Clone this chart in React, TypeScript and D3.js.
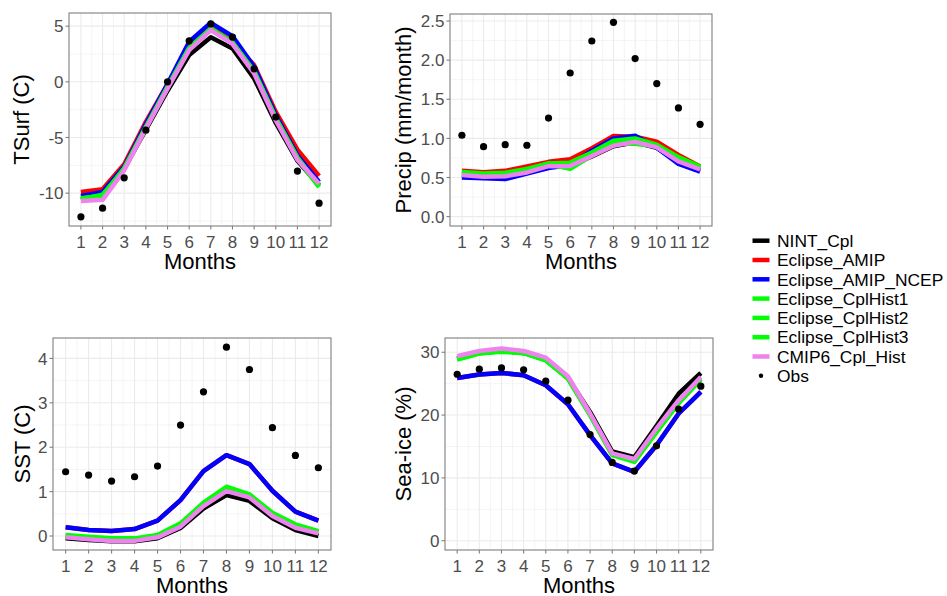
import React from "react";
import * as d3 from "d3";

// ---------- data ----------
const months = [1, 2, 3, 4, 5, 6, 7, 8, 9, 10, 11, 12];
const seriesNames = [
  "NINT_Cpl",
  "Eclipse_AMIP",
  "Eclipse_AMIP_NCEP",
  "Eclipse_CplHist1",
  "Eclipse_CplHist2",
  "Eclipse_CplHist3",
  "CMIP6_Cpl_Hist",
];
const seriesColors = ["#000000", "#FF0000", "#0000FF", "#00FF00", "#00FF00", "#00FF00", "#EE82EE"];
const obsName = "Obs";

// TSurf (C)
const tsurfNINT = [-10.6, -10.4, -7.8, -4.3, -0.8, 2.4, 4.0, 3.0, 0.3, -3.7, -7.1, -9.3];
const tsurfAMIP = [-9.9, -9.65, -7.4, -3.6, -0.2, 3.15, 4.9, 3.6, 1.5, -2.7, -6.1, -8.45];
const tsurfNCEP = [-10.25, -9.9, -7.6, -3.8, -0.2, 3.6, 5.3, 4.1, 1.35, -3.0, -6.6, -9.0];
const tsurfHist1 = [-10.5, -10.2, -7.8, -4.1, -0.5, 3.0, 4.75, 3.5, 0.9, -3.3, -6.85, -9.4];
const tsurfHist2 = [-10.55, -10.15, -7.85, -4.15, -0.55, 2.95, 4.7, 3.45, 0.85, -3.35, -6.9, -9.45];
const tsurfHist3 = [-10.45, -10.25, -7.75, -4.05, -0.45, 3.05, 4.8, 3.55, 0.95, -3.25, -6.8, -9.35];
const tsurfCMIP6 = [-10.7, -10.6, -7.95, -4.2, -0.6, 2.85, 4.65, 3.4, 0.75, -3.45, -7.0, -9.15];
const tsurfObs = [-12.13, -11.35, -8.62, -4.34, 0.0, 3.68, 5.21, 4.02, 1.17, -3.17, -8.02, -10.9];
const tsurfTicks = [-10, -5, 0, 5];

// Precip (mm/month)
const precipNINT = [0.53, 0.5, 0.52, 0.57, 0.64, 0.65, 0.77, 0.9, 0.95, 0.88, 0.7, 0.6];
const precipAMIP = [0.585, 0.566, 0.585, 0.64, 0.7, 0.733, 0.873, 1.03, 1.02, 0.958, 0.788, 0.64];
const precipNCEP = [0.5, 0.49, 0.48, 0.55, 0.62, 0.66, 0.843, 1.0, 1.035, 0.88, 0.673, 0.575];
const precipHist1 = [0.57, 0.55, 0.56, 0.61, 0.68, 0.69, 0.82, 0.97, 1.0, 0.92, 0.76, 0.64];
const precipHist2 = [0.55, 0.54, 0.55, 0.6, 0.67, 0.61, 0.78, 0.93, 0.93, 0.9, 0.74, 0.63];
const precipHist3 = [0.56, 0.53, 0.54, 0.6, 0.68, 0.66, 0.8, 0.95, 0.97, 0.91, 0.75, 0.62];
const precipCMIP6 = [0.532, 0.51, 0.515, 0.565, 0.645, 0.648, 0.775, 0.905, 0.955, 0.886, 0.705, 0.605];
const precipObs = [1.04, 0.894, 0.92, 0.912, 1.26, 1.836, 2.245, 2.483, 2.02, 1.7, 1.389, 1.18];
const precipTicks = [0, 0.5, 1.0, 1.5, 2.0, 2.5];

// SST (C)
const sstNINT = [-0.05, -0.09, -0.12, -0.12, -0.05, 0.18, 0.62, 0.92, 0.79, 0.4, 0.135, 0.0];
const sstAMIP = [0.195, 0.135, 0.112, 0.157, 0.345, 0.81, 1.463, 1.82, 1.62, 1.02, 0.548, 0.345];
const sstNCEP = [0.195, 0.135, 0.112, 0.157, 0.345, 0.81, 1.463, 1.82, 1.62, 1.02, 0.548, 0.345];
const sstHist1 = [0.022, -0.015, -0.053, -0.053, 0.022, 0.285, 0.75, 1.11, 0.938, 0.525, 0.263, 0.112];
const sstHist2 = [0.0, -0.04, -0.07, -0.07, 0.0, 0.25, 0.72, 1.07, 0.91, 0.49, 0.23, 0.09];
const sstHist3 = [-0.01, -0.05, -0.08, -0.08, -0.01, 0.24, 0.7, 1.05, 0.9, 0.48, 0.22, 0.08];
const sstCMIP6 = [-0.03, -0.075, -0.11, -0.11, -0.03, 0.21, 0.675, 1.01, 0.87, 0.45, 0.187, 0.06];
const sstObs = [1.447, 1.373, 1.238, 1.335, 1.576, 2.498, 3.248, 4.254, 3.75, 2.44, 1.815, 1.538];
const sstTicks = [0, 1, 2, 3, 4];

// Sea-ice (%)
const iceNINT = [29.0, 29.9, 30.2, 29.9, 28.9, 25.9, 20.5, 14.2, 13.3, 18.3, 23.4, 26.7];
const iceAMIP = [25.9, 26.45, 26.7, 26.35, 24.75, 21.73, 16.8, 12.3, 10.97, 15.2, 20.25, 23.7];
const iceNCEP = [25.9, 26.45, 26.7, 26.35, 24.75, 21.73, 16.8, 12.3, 10.97, 15.2, 20.25, 23.7];
const iceHist1 = [28.84, 29.8, 30.15, 29.9, 28.73, 25.8, 20.0, 13.63, 12.56, 17.3, 21.9, 25.65];
const iceHist2 = [29.0, 29.9, 30.2, 29.95, 28.8, 25.9, 20.1, 13.8, 12.8, 17.5, 22.1, 25.8];
const iceHist3 = [28.9, 29.85, 30.1, 29.85, 28.7, 25.85, 20.05, 13.7, 12.7, 17.4, 22.0, 25.7];
const iceCMIP6 = [29.36, 30.2, 30.6, 30.2, 29.15, 26.18, 20.25, 13.9, 13.0, 17.87, 22.37, 26.07];
const iceObs = [26.5, 27.3, 27.5, 27.2, 25.4, 22.37, 16.9, 12.46, 11.08, 15.1, 20.94, 24.6];
const iceTicks = [0, 10, 20, 30];

// ---------- layout ----------
const W = 947;
const H = 596;
const FONT = "'Liberation Sans', Arial, Helvetica, sans-serif";

type PanelDef = {
  box: { l: number; r: number; t: number; b: number };
  titleX: number;
  domain: [number, number];
  ticks: number[];
  fmt: (v: number) => string;
  yTitle: string;
  series: number[][];
  obs: number[];
};

const panels: PanelDef[] = [
  {
    box: { l: 69, r: 331, t: 13, b: 226 },
    titleX: 29,
    domain: [-12.95, 6.18],
    ticks: tsurfTicks,
    fmt: (v) => String(v),
    yTitle: "TSurf (C)",
    series: [tsurfNINT, tsurfAMIP, tsurfNCEP, tsurfHist1, tsurfHist2, tsurfHist3, tsurfCMIP6],
    obs: tsurfObs,
  },
  {
    box: { l: 450, r: 712, t: 14, b: 226 },
    titleX: 411,
    domain: [-0.12, 2.59],
    ticks: precipTicks,
    fmt: (v) => d3.format(".1f")(v),
    yTitle: "Precip (mm/month)",
    series: [precipNINT, precipAMIP, precipNCEP, precipHist1, precipHist2, precipHist3, precipCMIP6],
    obs: precipObs,
  },
  {
    box: { l: 53, r: 331, t: 338, b: 550 },
    titleX: 30,
    domain: [-0.315, 4.46],
    ticks: sstTicks,
    fmt: (v) => String(v),
    yTitle: "SST (C)",
    series: [sstNINT, sstAMIP, sstNCEP, sstHist1, sstHist2, sstHist3, sstCMIP6],
    obs: sstObs,
  },
  {
    box: { l: 445, r: 713, t: 338, b: 550 },
    titleX: 411,
    domain: [-1.48, 32.27],
    ticks: iceTicks,
    fmt: (v) => String(v),
    yTitle: "Sea-ice (%)",
    series: [iceNINT, iceAMIP, iceNCEP, iceHist1, iceHist2, iceHist3, iceCMIP6],
    obs: iceObs,
  },
];

function Panel({ p }: { p: PanelDef }) {
  const { l, r, t, b } = p.box;
  const x = d3.scaleLinear().domain([0.45, 12.55]).range([l, r]);
  const y = d3.scaleLinear().domain(p.domain).range([b, t]);
  const step = p.ticks[1] - p.ticks[0];
  const minor: number[] = [];
  for (let v = p.ticks[0] - step / 2; v <= p.domain[1]; v += step) {
    if (v >= p.domain[0]) minor.push(v);
  }
  const xMinor = months.slice(0, 11).map((m) => m + 0.5);
  const line = d3
    .line<number>()
    .x((_, i) => x(months[i]))
    .y((d) => y(d));
  const cx = (l + r) / 2;
  const cy = (t + b) / 2;
  return (
    <g>
      <clipPath id={`clip-${l}-${t}`}>
        <rect x={l} y={t} width={r - l} height={b - t} />
      </clipPath>
      <rect x={l} y={t} width={r - l} height={b - t} fill="#FFFFFF" />
      {minor.map((v, i) => (
        <line key={"ym" + i} x1={l} x2={r} y1={y(v)} y2={y(v)} stroke="#EBEBEB" strokeWidth={0.55} />
      ))}
      {xMinor.map((v, i) => (
        <line key={"xm" + i} x1={x(v)} x2={x(v)} y1={t} y2={b} stroke="#EBEBEB" strokeWidth={0.55} />
      ))}
      {p.ticks.map((v, i) => (
        <line key={"yM" + i} x1={l} x2={r} y1={y(v)} y2={y(v)} stroke="#EBEBEB" strokeWidth={1.1} />
      ))}
      {months.map((m) => (
        <line key={"xM" + m} x1={x(m)} x2={x(m)} y1={t} y2={b} stroke="#EBEBEB" strokeWidth={1.1} />
      ))}
      <g clipPath={`url(#clip-${l}-${t})`}>
        {p.series.map((s, i) => (
          <path
            key={"s" + i}
            d={line(s) || ""}
            fill="none"
            stroke={seriesColors[i]}
            strokeWidth={4.5}
            strokeLinejoin="round"
            strokeLinecap="butt"
          />
        ))}
        {p.obs.map((v, i) => (
          <circle key={"o" + i} cx={x(months[i])} cy={y(v)} r={3.6} fill="#000000" />
        ))}
      </g>
      <rect x={l} y={t} width={r - l} height={b - t} fill="none" stroke="#7F7F7F" strokeWidth={1.1} />
      {p.ticks.map((v, i) => (
        <g key={"yt" + i}>
          <line x1={l - 3.5} x2={l} y1={y(v)} y2={y(v)} stroke="#7F7F7F" strokeWidth={1.1} />
          <text
            x={l - 5.5}
            y={y(v)}
            dy="0.36em"
            textAnchor="end"
            fontFamily={FONT}
            fontSize={17}
            fill="#4D4D4D"
          >
            {p.fmt(v)}
          </text>
        </g>
      ))}
      {months.map((m) => (
        <g key={"xt" + m}>
          <line x1={x(m)} x2={x(m)} y1={b} y2={b + 3.5} stroke="#7F7F7F" strokeWidth={1.1} />
          <text x={x(m)} y={b + 21.5} textAnchor="middle" fontFamily={FONT} fontSize={17} fill="#4D4D4D">
            {m}
          </text>
        </g>
      ))}
      <text x={cx} y={b + 42.5} textAnchor="middle" fontFamily={FONT} fontSize={22} fill="#000000">
        Months
      </text>
      <text
        transform={`translate(${p.titleX},${cy}) rotate(-90)`}
        textAnchor="middle"
        fontFamily={FONT}
        fontSize={22}
        fill="#000000"
      >
        {p.yTitle}
      </text>
    </g>
  );
}

function Legend() {
  const x0 = 752.5;
  const y0 = 240.7;
  const dy = 19.3;
  const items = [...seriesNames, obsName];
  return (
    <g>
      {items.map((name, i) => {
        const yy = y0 + i * dy;
        const isObs = i === seriesNames.length;
        return (
          <g key={name}>
            {isObs ? (
              <circle cx={x0 + 8.5} cy={yy} r={2.2} fill="#000000" />
            ) : (
              <line x1={x0} x2={x0 + 17} y1={yy} y2={yy} stroke={seriesColors[i]} strokeWidth={4.5} />
            )}
            <text x={x0 + 24.5} y={yy} dy="0.36em" fontFamily={FONT} fontSize={17.4} fill="#000000">
              {name}
            </text>
          </g>
        );
      })}
    </g>
  );
}

export default function App() {
  return (
    <svg
      width={W}
      height={H}
      viewBox={`0 0 ${W} ${H}`}
      style={{ position: "absolute", left: 0, top: 0, background: "#FFFFFF" }}
    >
      <rect x={0} y={0} width={W} height={H} fill="#FFFFFF" />
      {panels.map((p, i) => (
        <Panel key={i} p={p} />
      ))}
      <Legend />
    </svg>
  );
}
